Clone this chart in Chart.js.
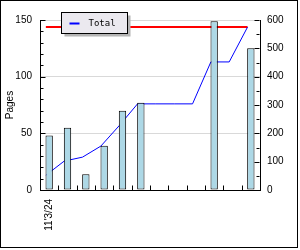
<!DOCTYPE html>
<html><head><meta charset="utf-8">
<script src="https://cdn.jsdelivr.net/npm/chart.js@4/dist/chart.umd.min.js"></script>
<style>html,body{margin:0;padding:0;background:#fff;overflow:hidden}</style>
</head><body>
<canvas id="c" width="300" height="250"></canvas>
<script>
// ---- data ----
const categories = ["11'3/24", "", "", "", "", "", "", "", "", "", "", ""];
const pages = [48, 55, 14, 39, 70, 77, null, null, null, 149, null, 125];
const total = [52, 102, 116, 155, 227, 304, 304, 304, 304, 452, 452, 575];
const maxLine = [575, 575, 575, 575, 575, 575, 575, 575, 575, 575, 575, 575];
const leftAxis = { min: 0, max: 150, step: 50, minor: 10 };
const rightAxis = { min: 0, max: 600, step: 100, minor: 50 };
const seriesNames = { pages: 'Pages', total: 'Total', max: 'Max' };

const FONT = { family: 'Liberation Sans', size: 10 };
const LINE_NUDGE = -3.3; // px: the line series sit slightly left of the bar centres

const nudgePlugin = {
  id: 'nudgeLines',
  beforeDatasetDraw(chart, args) {
    if (args.meta.type === 'line') { chart.ctx.save(); chart.ctx.translate(LINE_NUDGE, 0); }
  },
  afterDatasetDraw(chart, args) {
    if (args.meta.type === 'line') chart.ctx.restore();
  }
};

const framePlugin = {
  id: 'frameAndTicks',
  afterDraw(chart) {
    const { ctx, chartArea: a, scales } = chart;
    ctx.save();
    ctx.strokeStyle = '#000';
    ctx.lineWidth = 1;
    ctx.beginPath();
    const xl = Math.round(a.left) + 0.5, xr = Math.round(a.right) - 0.5, yb = Math.round(a.bottom) + 0.5;
    for (let v = leftAxis.min; v <= leftAxis.max; v += leftAxis.minor) {
      const py = Math.round(scales.y.getPixelForValue(v)) + 0.5;
      const len = v % leftAxis.step === 0 ? 5 : 3;
      ctx.moveTo(xl, py); ctx.lineTo(xl + len, py);
    }
    for (let v = rightAxis.min; v <= rightAxis.max; v += rightAxis.minor) {
      const py = Math.round(scales.y2.getPixelForValue(v)) + 0.5;
      const len = v % rightAxis.step === 0 ? 5 : 3;
      ctx.moveTo(xr, py); ctx.lineTo(xr - len, py);
    }
    const xs = scales.x;
    for (let i = 1; i < categories.length; i++) {
      const px = Math.round((xs.getPixelForValue(i - 1) + xs.getPixelForValue(i)) / 2) + 0.5;
      ctx.moveTo(px, yb); ctx.lineTo(px, yb - 5);
    }
    ctx.stroke();
    ctx.strokeRect(0.5, 0.5, 297, 247);
    // legend box
    const ds = chart.data.datasets[1];
    const bx = Math.round(a.left) + 21.5, by = Math.round(a.top) - 7.5, bw = 66, bh = 21;
    ctx.fillStyle = '#b4b4b4';
    ctx.fillRect(bx + 3, by + 3, bw, bh);
    ctx.fillStyle = '#ebe9ef';
    ctx.fillRect(bx, by, bw, bh);
    ctx.strokeRect(bx, by, bw, bh);
    ctx.strokeStyle = ds.borderColor;
    ctx.lineWidth = 2;
    ctx.beginPath();
    ctx.moveTo(bx + 8, by + 11); ctx.lineTo(bx + 18, by + 11);
    ctx.stroke();
    ctx.fillStyle = '#000';
    ctx.font = '9px "DejaVu Sans Mono"';
    ctx.textBaseline = 'middle';
    ctx.textAlign = 'left';
    ctx.fillText(ds.label, bx + 27, by + 11);
    ctx.restore();
  }
};

new Chart(document.getElementById('c'), {
  type: 'bar',
  data: {
    labels: categories,
    datasets: [
      {
        type: 'bar', label: seriesNames.pages, data: pages, grouped: false,
        backgroundColor: '#add8e6', borderColor: '#000', borderWidth: 1, borderSkipped: false,
        barPercentage: 0.4, categoryPercentage: 1, yAxisID: 'y', order: 0
      },
      {
        type: 'line', label: seriesNames.total, data: total,
        borderColor: '#0000ff', borderWidth: 1, pointRadius: 0, tension: 0, fill: false,
        yAxisID: 'y2', order: 1
      },
      {
        type: 'line', label: seriesNames.max, data: maxLine,
        borderColor: '#ff0000', borderWidth: 2, pointRadius: 0, tension: 0, fill: false,
        yAxisID: 'y2', order: 2
      }
    ]
  },
  options: {
    responsive: false, animation: false, devicePixelRatio: 1,
    layout: { padding: { top: 20, left: 0, right: 0, bottom: 0 } },
    plugins: { legend: { display: false }, tooltip: { enabled: false } },
    scales: {
      x: {
        type: 'category', position: 'bottom',
        grid: { display: false, drawTicks: false },
        border: { display: true, color: '#000', width: 1 },
        ticks: { color: '#000', font: FONT, minRotation: 90, maxRotation: 90, autoSkip: false, padding: 9 },
        afterFit(s) { s.height = 60; }
      },
      y: {
        position: 'left', min: leftAxis.min, max: leftAxis.max,
        ticks: { stepSize: leftAxis.step, color: '#000', font: FONT, padding: 8 },
        grid: { color: '#d9d9d9', drawTicks: false },
        border: { display: true, color: '#000', width: 1 },
        title: { display: true, text: 'Pages', color: '#000', font: FONT, padding: { top: 4, bottom: 0 } },
        afterFit(s) { s.width = 40; }
      },
      y2: {
        position: 'right', min: rightAxis.min, max: rightAxis.max,
        ticks: { stepSize: rightAxis.step, color: '#000', font: FONT, padding: 7 },
        grid: { display: false, drawTicks: false },
        border: { display: true, color: '#000', width: 1 },
        afterFit(s) { s.width = 40; }
      }
    }
  },
  plugins: [nudgePlugin, framePlugin]
});
</script>
</body></html>
